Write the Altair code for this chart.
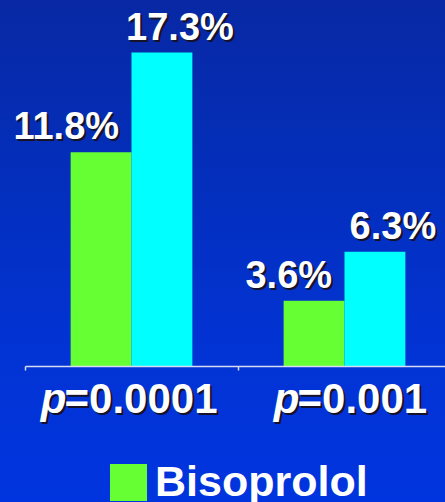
import altair as alt
import pandas as pd

# CIBIS-II style endpoint comparison: event rates (%) by treatment arm
endpoints = ["All-cause mortality", "Sudden death"]
p_values = ["0.0001", "0.001"]
series = ["Bisoprolol", "Placebo"]
bisoprolol = [11.8, 3.6]
placebo = [17.3, 6.3]
series_colors = ["#66ff33", "#00ffff"]

rows = []
for i, ep in enumerate(endpoints):
    rows.append({"endpoint": ep, "arm": series[0], "rate": bisoprolol[i]})
    rows.append({"endpoint": ep, "arm": series[1], "rate": placebo[i]})
df = pd.DataFrame(rows)
df["label"] = df["rate"].map(lambda v: f"{v:.1f}%")

ptext = pd.DataFrame({
    "endpoint": endpoints,
    "p": ["p"] * len(endpoints),
    "rest": ["=" + p for p in p_values],
})

FONT = "Liberation Sans"
SHADOW = "#15122a"
W, H = 420, 366

x_enc = alt.X(
    "endpoint:N",
    sort=endpoints,
    scale=alt.Scale(range=[0, 426], paddingInner=0, paddingOuter=0),
    axis=alt.Axis(
        title=None, labels=False, grid=False, bandPosition=0, zindex=1,
        domainColor="#d6dcf2", domainWidth=1.5,
        tickColor="#d6dcf2", tickWidth=1.5, tickSize=4,
    ),
)
xoff_enc = alt.XOffset(
    "arm:N", sort=series, scale=alt.Scale(paddingInner=0, paddingOuter=0.75)
)
y_enc = alt.Y("rate:Q", scale=alt.Scale(domain=[0, 20.2]), axis=None)

# gradient backdrop spanning the whole canvas
backdrop = alt.Chart(alt.Data(values=[{}])).mark_rect(
    color=alt.LinearGradient(
        gradient="linear",
        stops=[
            alt.GradientStop(color="#0828a4", offset=0),
            alt.GradientStop(color="#042eb8", offset=0.3),
            alt.GradientStop(color="#0233d4", offset=0.7),
            alt.GradientStop(color="#0034de", offset=1),
        ],
        x1=0, x2=0, y1=0, y2=1,
    )
).encode(
    x=alt.value(-25), x2=alt.value(W + 10), y=alt.value(0), y2=alt.value(502)
)

bars = alt.Chart(df).mark_bar().encode(
    x=x_enc,
    xOffset=xoff_enc,
    y=y_enc,
    color=alt.Color(
        "arm:N",
        sort=series,
        scale=alt.Scale(domain=series, range=series_colors),
        legend=alt.Legend(
            title=None, orient="none", legendX=82, legendY=461,
            direction="vertical", padding=0,
            symbolType="square", symbolSize=1369, symbolStrokeWidth=0,
            symbolOpacity=1, labelFont=FONT, labelFontWeight="bold",
            labelFontSize=43, labelColor="white", labelOffset=5,
            labelLimit=400, rowPadding=20,
        ),
    ),
)


def shadowed(base, mark_kw, enc):
    """Text layer pair: dark drop shadow underneath, white text on top."""
    shadow = base.mark_text(color=SHADOW, **{**mark_kw, "dx": mark_kw.get("dx", 0) + 2,
                                             "dy": mark_kw.get("dy", 0) + 2}).encode(**enc)
    front = base.mark_text(color="white", **mark_kw).encode(**enc)
    return [shadow, front]


value_layers = []
for arm, align in zip(series, ["right", "center"]):
    base = alt.Chart(df).transform_filter(alt.datum.arm == arm)
    value_layers += shadowed(
        base,
        dict(font=FONT, fontWeight="bold", fontSize=38, align=align,
             baseline="alphabetic", dx=18, dy=-13),
        dict(x=x_enc, xOffset=xoff_enc, y=y_enc, text="label:N"),
    )

# category labels: italic "p" followed by "=value"
split_dx = [-67, -47]
plabel_layers = []
for ep, sdx in zip(endpoints, split_dx):
    base = alt.Chart(ptext).transform_filter(alt.datum.endpoint == ep)
    common = dict(font=FONT, fontWeight="bold", fontSize=42, baseline="alphabetic")
    plabel_layers += shadowed(
        base,
        dict(**common, fontStyle="italic", align="right", dx=sdx + 2),
        dict(x=x_enc, y=alt.value(413), text="p:N"),
    )
    plabel_layers += shadowed(
        base,
        dict(**common, align="left", dx=sdx),
        dict(x=x_enc, y=alt.value(413), text="rest:N"),
    )

chart = alt.layer(backdrop, bars, *value_layers, *plabel_layers).properties(
    width=W,
    height=H,
    autosize=alt.AutoSizeParams(type="none"),
    padding={"left": 25, "top": 0, "right": 0, "bottom": 136},
    background="#0430c8",
).configure_view(stroke=None)

chart.save("out.html", embed_options={"renderer": "svg", "actions": False})
